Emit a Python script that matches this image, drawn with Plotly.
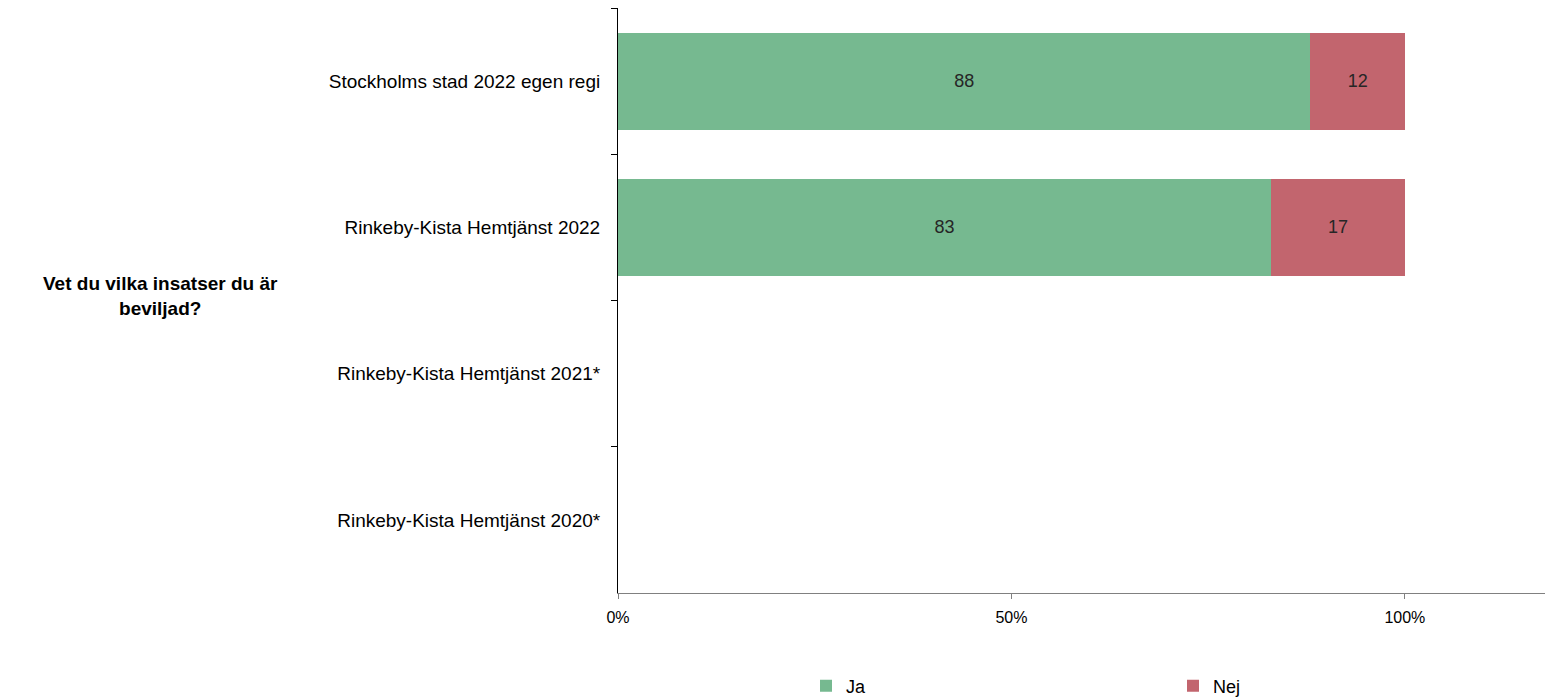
import plotly.graph_objects as go

categories = [
    "Stockholms stad 2022 egen regi",
    "Rinkeby-Kista Hemtjänst 2022",
    "Rinkeby-Kista Hemtjänst 2021*",
    "Rinkeby-Kista Hemtjänst 2020*",
]
ja_values = [88, 83, None, None]
nej_values = [12, 17, None, None]
x_tick_values = [0, 50, 100]
x_tick_labels = ["0%", "50%", "100%"]
question = "Vet du vilka insatser du är<br>beviljad?"

FONT = "Arial, Liberation Sans, sans-serif"
GREEN = "#76B990"
RED = "#C2656E"

fig = go.Figure()
for name, vals, col in [("Ja", ja_values, GREEN), ("Nej", nej_values, RED)]:
    fig.add_trace(go.Bar(
        y=categories, x=vals, name=name, orientation="h",
        marker=dict(color=col, line=dict(width=0)),
        text=[("" if v is None else str(v)) for v in vals],
        textposition="inside", insidetextanchor="middle",
        textfont=dict(family=FONT, size=18, color="#262626"),
        hoverinfo="skip",
    ))

W, H = 1545, 692
L, T, B = 610, 0, 107
pw = 934
R = W - L - pw
ph = H - T - B

fig.update_layout(
    width=W, height=H,
    barmode="stack", bargap=0.336,
    plot_bgcolor="white", paper_bgcolor="white",
    margin=dict(l=L, r=R, t=T, b=B, autoexpand=False),
    font=dict(family=FONT, size=16, color="#000000"),
    showlegend=True,
    legend=dict(
        orientation="h", x=(798 - L) / pw, xanchor="left",
        y=-0.159, yanchor="middle", traceorder="normal",
        entrywidth=322, entrywidthmode="pixels",
        font=dict(family=FONT, size=18, color="#000000"),
        itemclick=False, itemdoubleclick=False,
    ),
    xaxis=dict(
        range=[0, 118.7], tickvals=x_tick_values, ticktext=x_tick_labels,
        showgrid=False, zeroline=False,
        showline=True, linecolor="#808080", linewidth=1,
        ticks="outside", ticklen=5, tickcolor="#808080",
        ticklabelstandoff=5,
        tickfont=dict(family=FONT, size=16, color="#000000"),
        fixedrange=True,
    ),
    yaxis=dict(
        categoryorder="array", categoryarray=categories,
        autorange="reversed",
        showgrid=False, zeroline=False,
        showline=True, linecolor="#000000", linewidth=1,
        ticks="outside", ticklen=6, tickcolor="#000000", tickson="boundaries",
        ticklabelstandoff=13,
        tickfont=dict(family=FONT, size=19, color="#000000"),
        fixedrange=True,
    ),
    annotations=[dict(
        text="<b>" + question + "</b>", xref="paper", yref="paper",
        x=(152 - L) / pw, y=1 - 288 / ph, xanchor="center", yanchor="middle",
        showarrow=False, align="center",
        font=dict(family=FONT, size=19, color="#000000"),
    )],
)

fig.write_html("out.html")
